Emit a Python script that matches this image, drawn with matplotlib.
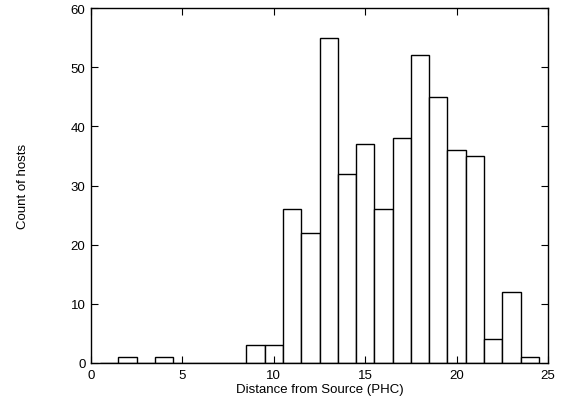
import matplotlib
matplotlib.use("Agg")
import matplotlib.pyplot as plt

# distance (hops) and number of hosts at that distance
distance = [1, 2, 3, 4, 5, 6, 7, 8, 9, 10, 11, 12, 13, 14, 15, 16, 17, 18, 19, 20, 21, 22, 23, 24]
hosts = [0, 1, 0, 1, 0, 0, 0, 0, 3, 3, 26, 22, 55, 32, 37, 26, 38, 52, 45, 36, 35, 4, 12, 1]
x_ticks = [0, 5, 10, 15, 20, 25]
y_ticks = [0, 10, 20, 30, 40, 50, 60]

plt.rcParams['font.family'] = ['Liberation Sans', 'DejaVu Sans']

fig = plt.figure(figsize=(5.72, 4.02), dpi=100)
ax = fig.add_axes([91 / 572, 38 / 402, 457 / 572, 355 / 402])

ax.bar(distance, hosts, width=1.0, facecolor='white', edgecolor='black', linewidth=1.0)

ax.set_xlim(0, 25)
ax.set_ylim(0, 60)
ax.set_xticks(x_ticks)
ax.set_yticks(y_ticks)
ax.tick_params(direction='in', top=True, right=True, length=5, width=0.8,
               labelsize=9.5, pad=4, colors='black')
for s in ax.spines.values():
    s.set_linewidth(1.0)

ax.set_xlabel('Distance from Source (PHC)', fontsize=9.5, labelpad=2)
ax.set_ylabel('Count of hosts', fontsize=9.5, labelpad=30)

fig.savefig('out.png', dpi=100)
